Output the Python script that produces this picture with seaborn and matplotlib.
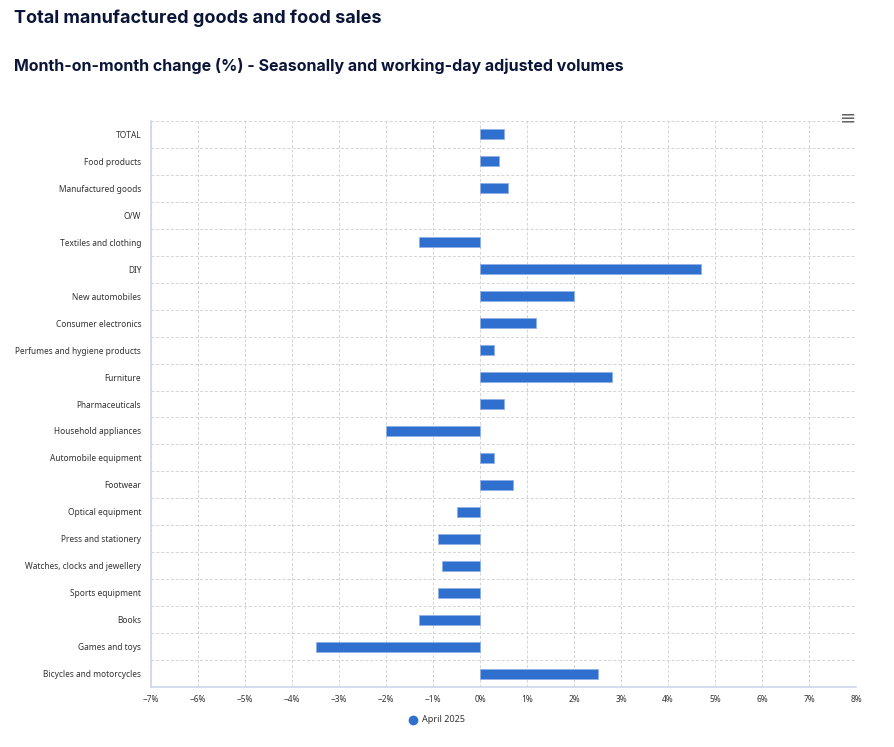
import pandas as pd
import numpy as np
import matplotlib.pyplot as plt
import seaborn as sns

# Data
categories = [
    "TOTAL", "Food products", "Manufactured goods", "O/W",
    "Textiles and clothing", "DIY", "New automobiles", "Consumer electronics",
    "Perfumes and hygiene products", "Furniture", "Pharmaceuticals",
    "Household appliances", "Automobile equipment", "Footwear",
    "Optical equipment", "Press and stationery", "Watches, clocks and jewellery",
    "Sports equipment", "Books", "Games and toys", "Bicycles and motorcycles",
]
april_2025 = [
    0.5, 0.4, 0.6, np.nan,
    -1.3, 4.7, 2.0, 1.2,
    0.3, 2.8, 0.5,
    -2.0, 0.3, 0.7,
    -0.5, -0.9, -0.8,
    -0.9, -1.3, -3.5, 2.5,
]
x_ticks = list(range(-7, 9))
series_name = "April 2025"

df = pd.DataFrame({"category": categories, "value": april_2025})

bar_color = "#2f6fce"
title_color = "#0b1537"

sns.set_style("white")
plt.rcParams["font.family"] = ["Noto Sans", "DejaVu Sans"]

fig = plt.figure(figsize=(8.94, 7.47), dpi=100)
ax = fig.add_axes([151 / 894, 1 - 687 / 747, (856 - 151) / 894, (687 - 121) / 747])

sns.barplot(data=df, x="value", y="category", orient="h", color=bar_color,
            saturation=1, width=0.37, edgecolor="#8fb0e6", linewidth=0.6, ax=ax)

ax.set_xlim(-7, 8)
ax.set_ylim(len(categories) - 0.5, -0.5)
ax.set_xticks(x_ticks)
ax.set_xticklabels([("\u2212" if t < 0 else "") + f"{abs(t)}%" for t in x_ticks],
                   fontsize=6, color="#333333")
ax.tick_params(axis="y", labelsize=6, colors="#333333", length=0, pad=7)
ax.tick_params(axis="x", length=0, pad=6)
ax.set_xlabel("")
ax.set_ylabel("")

# dashed grid: vertical at ticks, horizontal at category boundaries
for t in x_ticks:
    ax.axvline(t, color="#d4d4d4", linestyle=(0, (3, 2)), linewidth=0.7, zorder=0)
for b in np.arange(-0.5, len(categories), 1.0):
    ax.axhline(b, color="#d4d4d4", linestyle=(0, (3, 2)), linewidth=0.7, zorder=0)

for side in ["top", "right"]:
    ax.spines[side].set_visible(False)
ax.spines["left"].set_color("#ccd6eb")
ax.spines["bottom"].set_color("#ccd6eb")
ax.spines["left"].set_linewidth(1.2)
ax.spines["bottom"].set_linewidth(1.2)

# titles
fig.text(14 / 894, 1 - 18 / 747, "Total manufactured goods and food sales",
         fontsize=13, fontweight="bold", color=title_color, va="center",
         family=["Inter", "DejaVu Sans"])
fig.text(14 / 894, 1 - 66 / 747,
         "Month-on-month change (%) - Seasonally and working-day adjusted volumes",
         fontsize=11.5, fontweight="bold", color=title_color, va="center",
         family=["Inter", "DejaVu Sans"])

# menu icon
fig.text(848 / 894, 1 - 118 / 747, "\u2261", fontsize=14, color="#666666",
         ha="center", va="center", family=["DejaVu Sans"])

# legend
fig.lines.append(plt.Line2D([413 / 894], [1 - 720 / 747], marker="o", markersize=6,
                            color=bar_color, transform=fig.transFigure))
fig.text(422 / 894, 1 - 720 / 747, series_name, fontsize=6.5, fontweight="bold",
         color="#333333", va="center")

fig.savefig("out.png", dpi=100)
